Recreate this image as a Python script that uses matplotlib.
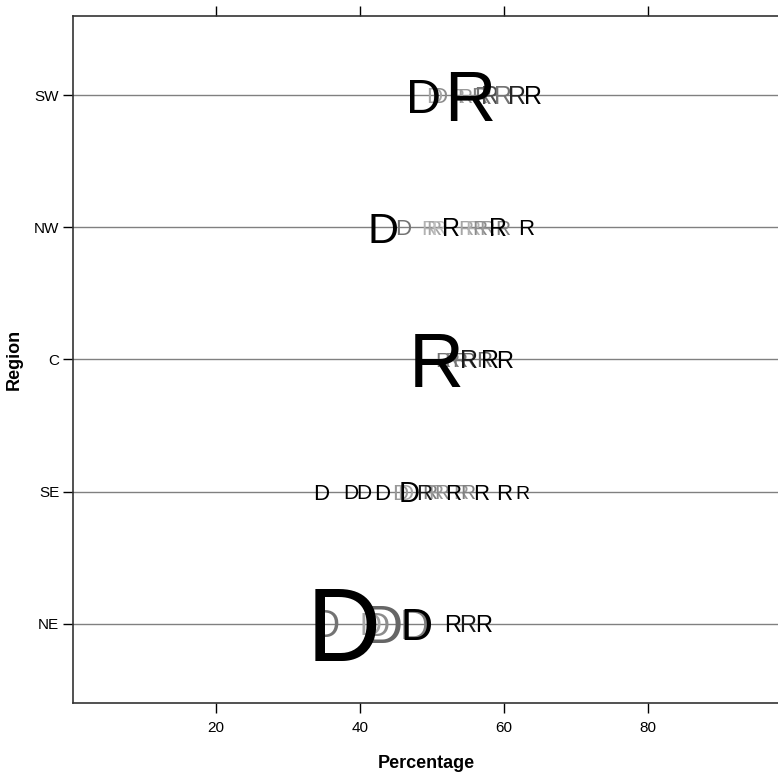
import matplotlib
matplotlib.use("Agg")
import matplotlib.pyplot as plt

regions = ["NE", "SE", "C", "NW", "SW"]
x_ticks = [20, 40, 60, 80]

# per region: percentage, winner letter, font size (pt), grey shade
sw_x = [50.3, 51.0, 53.5, 54.5, 56.5, 57.0, 58.1, 59.9, 48.9, 55.3, 61.8, 64.0]
sw_l = ["D", "D", "R", "R", "R", "R", "R", "R", "D", "R", "R", "R"]
sw_s = [16, 16, 15, 15, 16, 17, 18, 18, 35, 51, 18, 18]
sw_g = [0.65, 0.55, 0.65, 0.6, 0.5, 0.45, 0.3, 0.45, 0.0, 0.0, 0.15, 0.0]

nw_x = [46.0, 49.6, 50.3, 51.0, 54.7, 55.7, 56.7, 57.6, 59.9, 43.2, 52.6, 59.2, 63.1]
nw_l = ["D", "R", "R", "R", "R", "R", "R", "R", "R", "D", "R", "R", "R"]
nw_s = [16, 15, 15, 15, 15, 15, 15, 15, 15, 31, 18, 18, 16]
nw_g = [0.45, 0.7, 0.65, 0.75, 0.65, 0.7, 0.55, 0.6, 0.5, 0.0, 0.0, 0.0, 0.0]

c_x = [51.5, 52.8, 53.9, 55.0, 57.2, 50.6, 55.2, 58.1, 60.1]
c_l = ["R", "R", "R", "R", "R", "R", "R", "R", "R"]
c_s = [15, 15, 15, 15, 16, 55, 18, 18, 17]
c_g = [0.45, 0.5, 0.45, 0.4, 0.4, 0.0, 0.1, 0.0, 0.0]

se_x = [45.6, 46.3, 49.7, 50.5, 51.3, 54.0, 55.0, 34.6, 38.75, 40.6, 43.1, 46.8, 48.9, 52.9, 56.9, 60.0, 62.5]
se_l = ["D", "D", "R", "R", "R", "R", "R", "D", "D", "D", "D", "D", "R", "R", "R", "R", "R"]
se_s = [16, 16, 15, 15, 15, 15, 15, 16, 15, 15, 16, 21, 16, 16, 16, 16, 14]
se_g = [0.6, 0.65, 0.5, 0.6, 0.55, 0.6, 0.5, 0.0, 0.0, 0.0, 0.0, 0.0, 0.1, 0.0, 0.0, 0.0, 0.0]

ne_x = [35.4, 41.4, 42.4, 43.3, 47.6, 37.8, 47.8, 52.8, 55.0, 57.2]
ne_l = ["D", "D", "D", "D", "D", "D", "D", "R", "R", "R"]
ne_s = [27, 22, 24, 38, 30, 74, 32, 17, 17, 17]
ne_g = [0.45, 0.65, 0.55, 0.4, 0.5, 0.0, 0.0, 0.0, 0.1, 0.0]

data = {"SW": (sw_x, sw_l, sw_s, sw_g), "NW": (nw_x, nw_l, nw_s, nw_g),
        "C": (c_x, c_l, c_s, c_g), "SE": (se_x, se_l, se_s, se_g),
        "NE": (ne_x, ne_l, ne_s, ne_g)}

plt.rcParams['font.family'] = ['Liberation Sans', 'DejaVu Sans']
narrow = ['Liberation Sans Narrow', 'Liberation Sans', 'DejaVu Sans']

fig = plt.figure(figsize=(7.78, 7.77), dpi=100)
W, H = 778, 777
ax = fig.add_axes([73 / W, (H - 703) / H, (779 - 73) / W, (703 - 16) / H])
ax.set_xlim(0.14, 98.2)
ax.set_ylim(0.4, 5.6)

ypos = {r: i + 1 for i, r in enumerate(regions)}
for r in regions:
    ax.axhline(ypos[r], color="#808080", lw=1.0, zorder=1)

for r in regions:
    xs, ls, ss, gs = data[r]
    for x, l, s, g in zip(xs, ls, ss, gs):
        c = (g, g, g)
        ax.annotate(l, (x, ypos[r]), xytext=(0, -0.36 * s), textcoords="offset points",
                    ha="center", va="baseline", fontsize=s, color=c, zorder=2)

ax.set_yticks([ypos[r] for r in regions])
ax.set_yticklabels(regions, fontsize=11, family=narrow)
ax.set_xticks(x_ticks)
ax.set_xticklabels([str(t) for t in x_ticks], fontsize=11, family=narrow)
ax.tick_params(axis="x", top=True, labeltop=False, direction="out", length=7, width=1, pad=6)
ax.tick_params(axis="y", direction="out", length=7, width=1, pad=3)
for sp in ax.spines.values():
    sp.set_linewidth(1.2)
    sp.set_color("#333333")

ax.set_xlabel("Percentage", fontsize=13, fontweight="bold", labelpad=14, family=narrow)
ax.set_ylabel("Region", fontsize=13, fontweight="bold", labelpad=8, family=narrow)

fig.savefig("out.png", dpi=100)
